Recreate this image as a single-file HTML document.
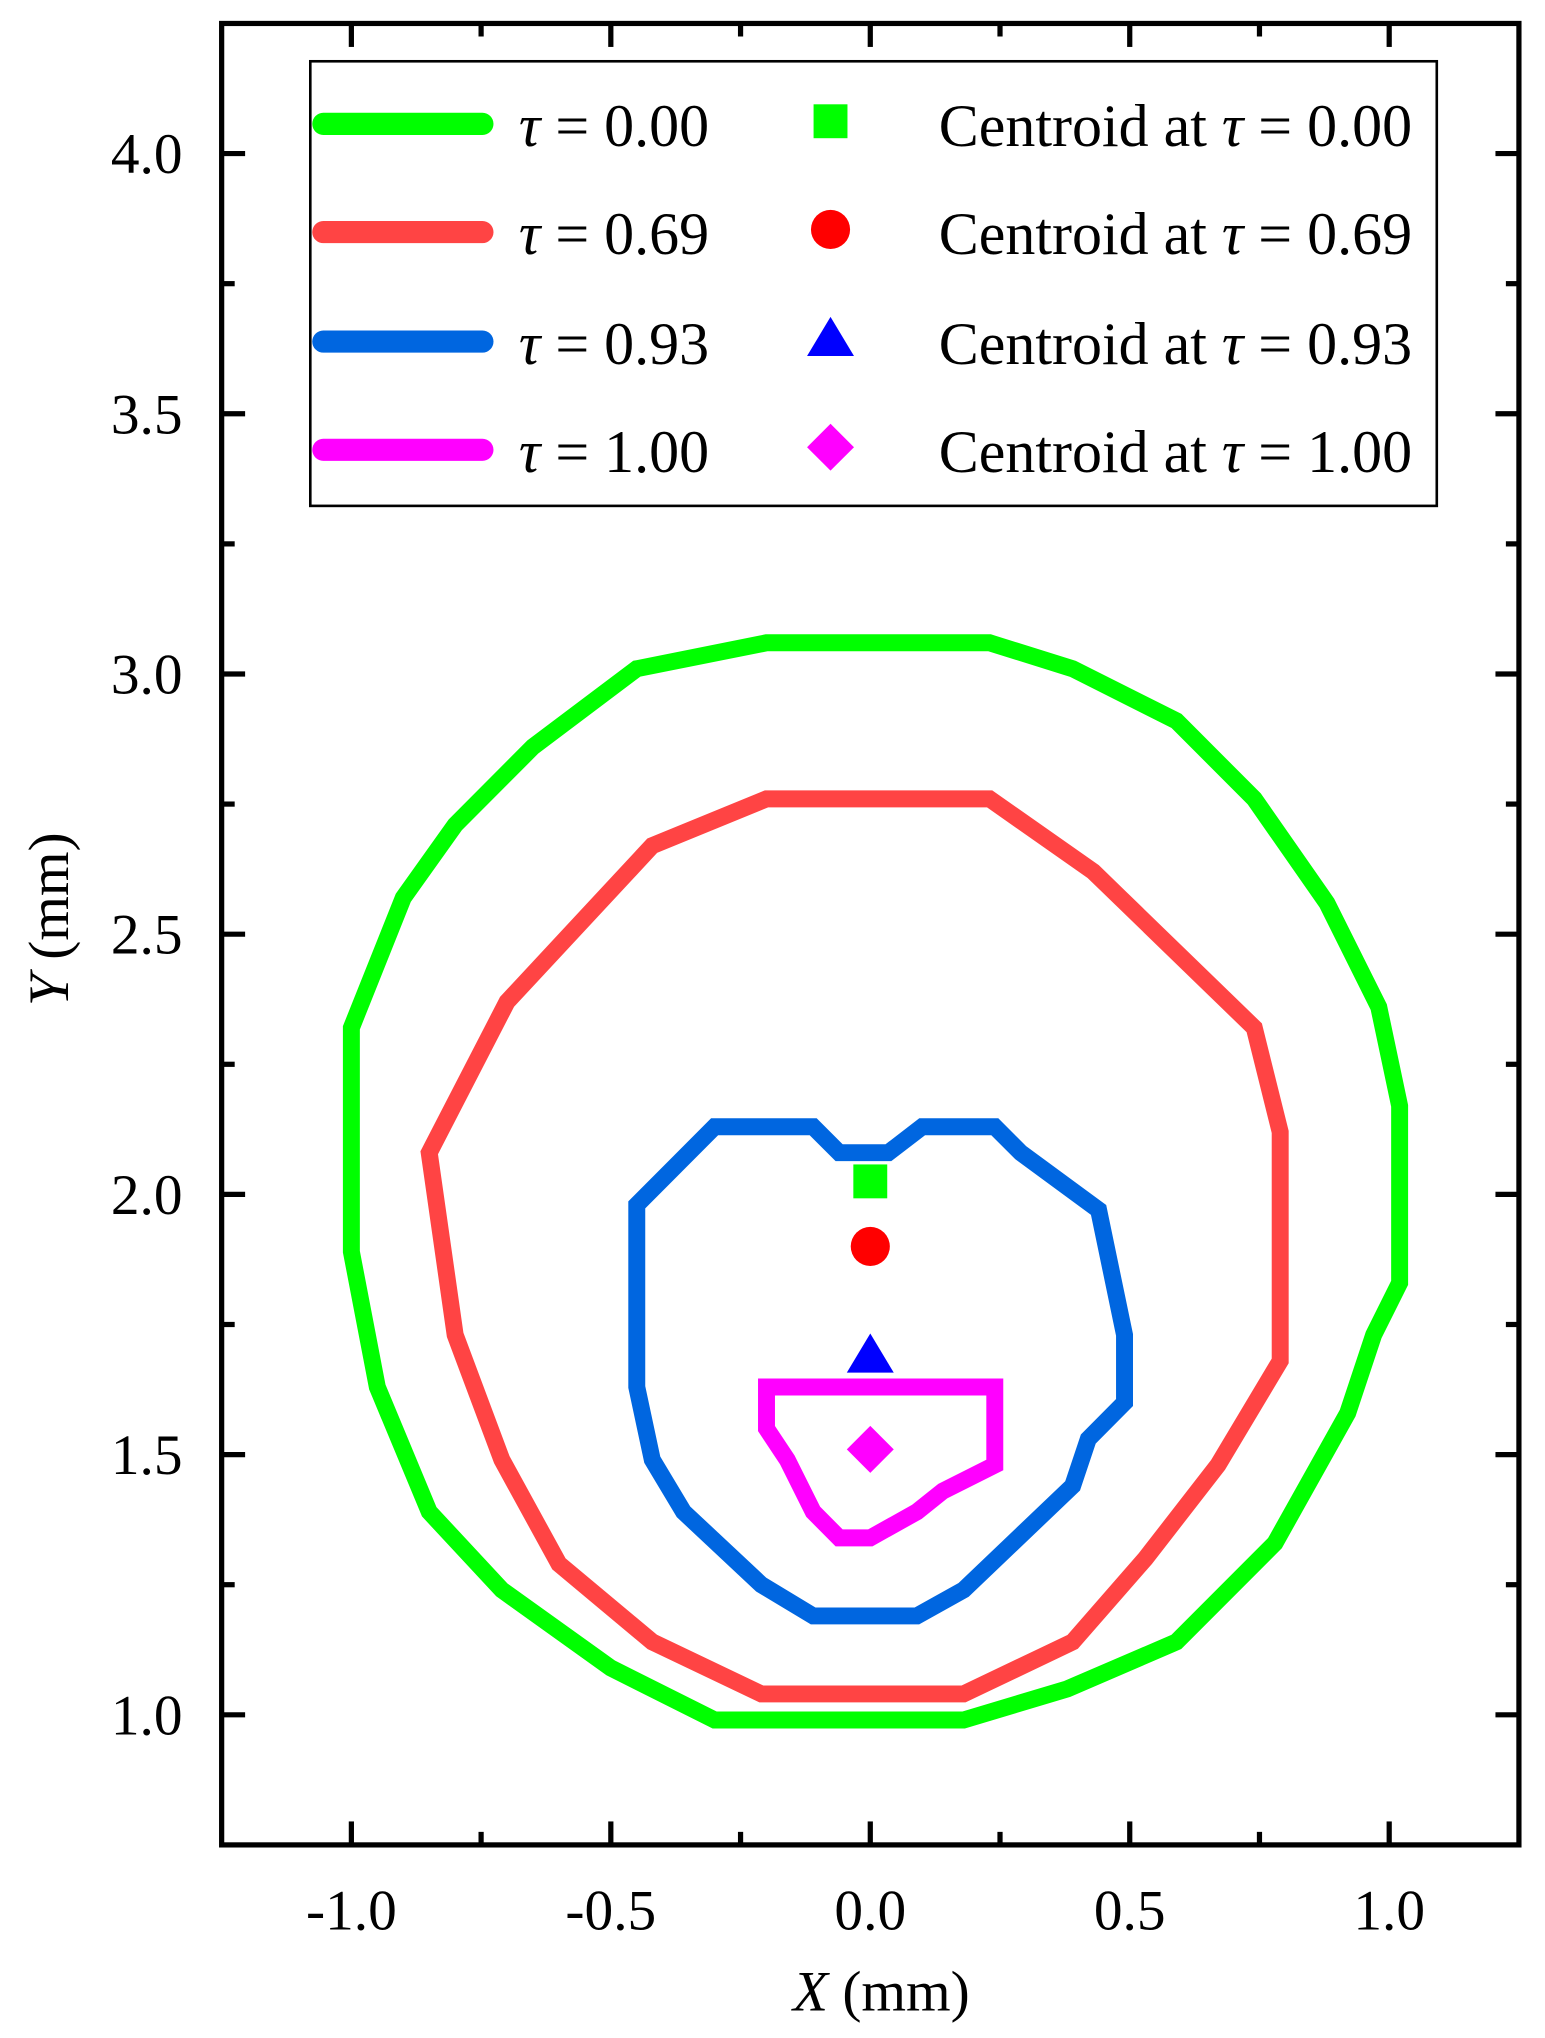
<!DOCTYPE html>
<html><head><meta charset="utf-8"><style>
html,body{margin:0;padding:0;background:#fff}
svg{display:block}
text{font-family:"Liberation Serif",serif;fill:#000}
</style></head><body>
<svg id="chart" width="1545" height="2038" viewBox="0 0 1185 1563.1" preserveAspectRatio="none">
<g id="plot"></g>
<g id="axes"></g>
<g id="legend"></g>
</svg>
<script>
const xTicks=[-1.0,-0.5,0.0,0.5,1.0];
const yTicks=[1.0,1.5,2.0,2.5,3.0,3.5,4.0];
const seriesNames=["τ = 0.00","τ = 0.69","τ = 0.93","τ = 1.00"];
const seriesColors=["#00ff00","#ff4444","#0066e0","#ff00ff"];
const greenX=[-1.0,-1.0,-0.95,-0.85,-0.71,-0.50,-0.30,0.18,0.38,0.59,0.78,0.92,0.97,1.02,1.02,0.98,0.88,0.74,0.59,0.39,0.23,-0.20,-0.45,-0.65,-0.80,-0.90];
const greenY=[2.32,1.89,1.63,1.39,1.24,1.09,0.99,0.99,1.05,1.14,1.33,1.58,1.73,1.83,2.17,2.36,2.56,2.76,2.91,3.01,3.06,3.06,3.01,2.86,2.71,2.57];
const redX=[-0.85,-0.70,-0.42,-0.20,0.23,0.43,0.74,0.79,0.79,0.67,0.53,0.39,0.18,-0.21,-0.42,-0.60,-0.71,-0.80];
const redY=[2.08,2.37,2.67,2.76,2.76,2.62,2.32,2.12,1.68,1.48,1.30,1.14,1.04,1.04,1.14,1.29,1.49,1.73];
const blueX=[-0.45,-0.30,-0.11,-0.06,0.035,0.10,0.24,0.29,0.44,0.49,0.49,0.42,0.39,0.18,0.09,-0.11,-0.21,-0.36,-0.42,-0.45];
const blueY=[1.98,2.13,2.13,2.08,2.08,2.13,2.13,2.08,1.97,1.73,1.60,1.53,1.44,1.24,1.19,1.19,1.25,1.39,1.49,1.63];
const magX=[-0.20,0.24,0.24,0.14,0.09,0.0,-0.06,-0.11,-0.16,-0.20];
const magY=[1.63,1.63,1.48,1.43,1.39,1.34,1.34,1.39,1.49,1.55];
const centroidX=[0,0,0,0];
const centroidY=[2.025,1.90,1.69,1.51];

const L=170,R=1165,T=18,B=1415,X0=-1.25,X1=1.25,Y0=0.75,Y1=4.25;
const sx=v=>L+(v-X0)/(X1-X0)*(R-L);
const sy=v=>B-(v-Y0)/(Y1-Y0)*(B-T);
const NS="http://www.w3.org/2000/svg";
function mk(tag,attrs,parent){const e=document.createElementNS(NS,tag);for(const k in attrs)e.setAttribute(k,attrs[k]);parent.appendChild(e);return e;}
const plot=document.getElementById('plot'),axes=document.getElementById('axes'),leg=document.getElementById('legend');

const allX=[greenX,redX,blueX,magX],allY=[greenY,redY,blueY,magY];
const cNames=['contour-tau-0-00','contour-tau-0-69','contour-tau-0-93','contour-tau-1-00'];
for(let s=0;s<4;s++){
  const pts=allX[s].map((x,i)=>sx(x).toFixed(1)+','+sy(allY[s][i]).toFixed(1)).join(' ');
  const p=mk('polygon',{points:pts,fill:'none',stroke:seriesColors[s],'stroke-width':13,'stroke-linejoin':'miter','stroke-miterlimit':3},plot);
  
  
}
function marker(type,cx,cy,parent,name){
  let e;
  if(type===0)e=mk('rect',{x:cx-13,y:cy-13,width:26,height:26,fill:'#00ff00'},parent);
  else if(type===1)e=mk('circle',{cx:cx,cy:cy,r:15,fill:'#ff0000'},parent);
  else if(type===2)e=mk('polygon',{points:`${cx},${cy-17} ${cx+18},${cy+13} ${cx-18},${cy+13}`,fill:'#0000ff'},parent);
  else e=mk('polygon',{points:`${cx},${cy-18} ${cx+18},${cy} ${cx},${cy+18} ${cx-18},${cy}`,fill:'#ff00ff'},parent);
  
  
}
for(let i=0;i<4;i++)marker(i,sx(centroidX[i]),sy(centroidY[i]),plot,'centroid-marker-'+i);

const fr=mk('rect',{x:L,y:T,width:R-L,height:B-T,fill:'none',stroke:'#000','stroke-width':4},axes);


for(let v=-1.0;v<=1.001;v+=0.25){
  const major=Math.abs(v*2-Math.round(v*2))<1e-6;const len=major?18:10;const x=sx(v);
  mk('line',{x1:x,y1:B,x2:x,y2:B-len,stroke:'#000','stroke-width':4},axes);
  mk('line',{x1:x,y1:T,x2:x,y2:T+len,stroke:'#000','stroke-width':4},axes);
}
for(let v=1.0;v<=4.001;v+=0.25){
  const major=Math.abs(v*2-Math.round(v*2))<1e-6;const len=major?18:10;const y=sy(v);
  mk('line',{x1:L,y1:y,x2:L+len,y2:y,stroke:'#000','stroke-width':4},axes);
  mk('line',{x1:R,y1:y,x2:R-len,y2:y,stroke:'#000','stroke-width':4},axes);
}
xTicks.forEach(v=>{const t=mk('text',{x:sx(v),y:1480,'font-size':44,'text-anchor':'middle'},axes);t.textContent=v.toFixed(1);
  
  });
yTicks.forEach(v=>{const t=mk('text',{x:140,y:sy(v)+15,'font-size':44,'text-anchor':'end'},axes);t.textContent=v.toFixed(1);
  
  });
const xt=mk('text',{x:676,y:1542,'font-size':44,'text-anchor':'middle'},axes);
xt.innerHTML='<tspan font-style="italic">X</tspan> (mm)';


const yt=mk('text',{x:0,y:0,'font-size':44,'text-anchor':'middle',transform:'translate(52,705) rotate(-90)'},axes);
yt.innerHTML='<tspan font-style="italic">Y</tspan> (mm)';



const lb=mk('rect',{x:238,y:47,width:864,height:341,fill:'#fff',stroke:'#000','stroke-width':2},leg);


const rows=[95,178,262,345];
const vals=["0.00","0.69","0.93","1.00"];
for(let i=0;i<4;i++){
  const y=rows[i];
  const ln=mk('line',{x1:248,y1:y,x2:370,y2:y,stroke:seriesColors[i],'stroke-width':17,'stroke-linecap':'round'},leg);
  
  
  const t=mk('text',{x:398,y:y+17,'font-size':46},leg);
  t.innerHTML='<tspan font-style="italic">τ</tspan> = '+vals[i];
  
  
  marker(i,637,y-2,leg,'legend-marker-'+i);
  const t2=mk('text',{x:720,y:y+17,'font-size':46},leg);
  t2.innerHTML='Centroid at <tspan font-style="italic">τ</tspan> = '+vals[i];
  
  
}
</script>
</body></html>
